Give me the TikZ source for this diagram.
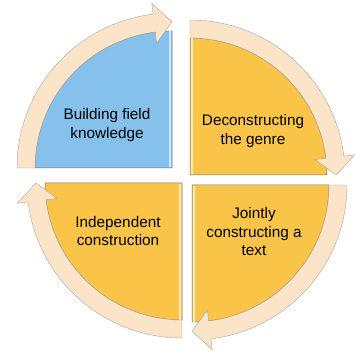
\documentclass[tikz,border=0pt]{standalone}
\usepackage{fontspec}
\setmainfont{Liberation Sans}

\definecolor{fieldblue}{RGB}{133,193,234}
\definecolor{stageyellow}{RGB}{250,196,72}
\definecolor{bandpeach}{RGB}{252,228,200}

\begin{document}
\begin{tikzpicture}[x = 1pt, y = 1pt]

	% Definition
	
	\def\R{137pt} 		% Radius of a quarter (inner edge of band)
	\def\Rout{155pt} 	% Outer edge of band
	\def\Rmid{146pt} 	% Tip of arrow head
	\def\Rhin{126pt} 	% Inner corner of arrow head
	\def\Rhout{166pt} 	% Outer corner of arrow head
	\def\Ahead{7} 		% Angle taken by arrow head

	\tikzset{
		sector/.style = {draw = black!55, line width = 0.5pt},
		gloss/.style = {line width = 2pt},
		band/.style = {draw = black!35, line width = 0.4pt, fill = bandpeach},
		stage/.style = {align = center, font = \fontsize{15.3}{18.5}\selectfont}
	}

	\useasboundingbox (0, 0) rectangle (355, 350);

	% Quarters with cycle arrows (corner x / corner y / start angle / colour / side of gloss / up or down)
	
	\foreach \cx/\cy/\a/\col/\s/\v in {172/182/180/fieldblue/-1/1, 190/175/90/stageyellow/1/1, 192/165/0/stageyellow/1/-1, 182/167/270/stageyellow/-1/-1}
	{
		\begin{scope}[shift = {(\cx, \cy)}]
			\filldraw [sector, fill = \col] (0, 0) -- (\a : \R) arc (\a : \a - 90 : \R) -- cycle;
			\begin{scope}
				\clip (0, 0) -- (\a : \R) arc (\a : \a - 90 : \R) -- cycle;
				\draw [gloss, \col!35!white] (\s * 2, \v * 1) -- (\s * 2, \v * 140);
			\end{scope}
			\filldraw [band] (\a : \R) -- (\a : \Rout) arc (\a : \a - 90 + \Ahead : \Rout)
				-- (\a - 90 + \Ahead : \Rhout) -- (\a - 90 : \Rmid) -- (\a - 90 + \Ahead : \Rhin)
				-- (\a - 90 + \Ahead : \R) arc (\a - 90 + \Ahead : \a : \R) -- cycle;
		\end{scope}
	}
	
	% Stages
	
	\node [stage] (build) at (107, 225) {Building field\\knowledge};
	\node [stage] (decon) at (253, 219) {Deconstructing\\the genre};
	\node [stage] (joint) at (254, 118) {Jointly\\constructing a\\text};
	\node [stage] (indep) at (118, 119) {Independent\\construction};

\end{tikzpicture}
\end{document}
